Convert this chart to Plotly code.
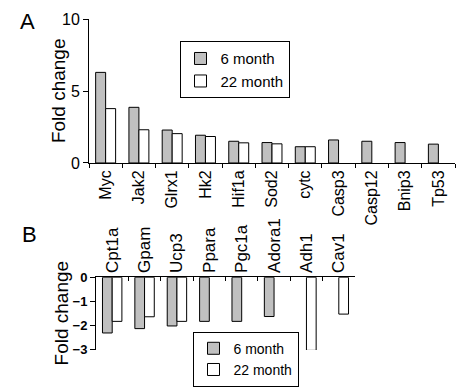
import plotly.graph_objects as go

# Panel A data
genes_a = ["Myc", "Jak2", "Glrx1", "Hk2", "Hif1a", "Sod2", "cytc", "Casp3", "Casp12", "Bnip3", "Tp53"]
a_6m = [6.3, 3.87, 2.29, 1.93, 1.51, 1.42, 1.13, 1.6, 1.51, 1.42, 1.31]
a_22m = [3.78, 2.31, 2.04, 1.84, 1.4, 1.33, 1.13, None, None, None, None]

# Panel B data
genes_b = ["Cpt1a", "Gpam", "Ucp3", "Ppara", "Pgc1a", "Adora1", "Adh1", "Cav1"]
b_6m = [-2.3, -2.12, -2.01, -1.82, -1.82, -1.62, None, None]
b_22m = [-1.82, -1.63, -1.82, None, None, None, -3.02, -1.52]

series_names = ["6 month", "22 month"]
y_title = "Fold change"
GRAY = "#c0c0c0"
WHITE = "#ffffff"
FONT = "Arial, Liberation Sans, sans-serif"
W, H = 461, 387

fig = go.Figure()

fig.add_trace(go.Bar(x=genes_a, y=a_6m, name=series_names[0], marker=dict(color=GRAY, line=dict(color="black", width=1)),
                     xaxis="x", yaxis="y", legend="legend"))
fig.add_trace(go.Bar(x=genes_a, y=a_22m, name=series_names[1], marker=dict(color=WHITE, line=dict(color="black", width=1)),
                     xaxis="x", yaxis="y", legend="legend"))
fig.add_trace(go.Bar(x=genes_b, y=b_6m, name=series_names[0], marker=dict(color=GRAY, line=dict(color="black", width=1)),
                     xaxis="x2", yaxis="y2", legend="legend2"))
fig.add_trace(go.Bar(x=genes_b, y=b_22m, name=series_names[1], marker=dict(color=WHITE, line=dict(color="black", width=1)),
                     xaxis="x2", yaxis="y2", legend="legend2"))

def px_x(p):
    return p / W

def px_y(p):
    return 1 - p / H

fig.update_layout(
    width=W, height=H,
    margin=dict(l=0, r=0, t=0, b=0),
    paper_bgcolor="white", plot_bgcolor="white",
    font=dict(family=FONT, color="black"),
    barmode="group",
    bargap=0.4,
    bargroupgap=0,
    xaxis=dict(domain=[px_x(89), px_x(455)], anchor="y", type="category", automargin=False,
               range=[-0.5, len(genes_a) - 0.5],
               showline=True, linecolor="black", linewidth=1,
               ticks="outside", tickson="boundaries", ticklen=4, tickcolor="black",
               tickangle=-90, tickfont=dict(size=16), showgrid=False),
    yaxis=dict(domain=[px_y(170), px_y(20)], anchor="x", range=[0, 10], automargin=False,
               tickvals=[0, 5, 10], showline=True, linecolor="black", linewidth=1,
               ticks="outside", ticklen=5, tickcolor="black", tickfont=dict(size=16),
               showgrid=False, zeroline=False),
    xaxis2=dict(domain=[px_x(96), px_x(355)], anchor="y2", type="category", side="top", automargin=False,
                range=[-0.5, len(genes_b) - 0.5],
                showline=True, linecolor="black", linewidth=1,
                ticks="inside", tickson="boundaries", ticklen=4, tickcolor="black",
                tickangle=-90, tickfont=dict(size=17), showgrid=False),
    yaxis2=dict(domain=[px_y(365), px_y(289.3)], anchor="x2", range=[-3, 0], automargin=False,
                tickvals=[0, -1, -2, -3], showline=True, linecolor="black", linewidth=1,
                ticks="outside", ticklen=5, tickcolor="black",
                tickfont=dict(size=13, weight="bold"),
                showgrid=False, zeroline=False),
    legend=dict(x=px_x(234.5), y=px_y(43), xanchor="center", yanchor="top",
                bordercolor="black", borderwidth=1, font=dict(size=15),
                itemwidth=30, tracegroupgap=0, bgcolor="white"),
    legend2=dict(x=px_x(245.5), y=px_y(346), xanchor="center", yanchor="top",
                 bordercolor="black", borderwidth=1, font=dict(size=14),
                 itemwidth=30, tracegroupgap=0, bgcolor="white"),
    annotations=[
        dict(text="A", x=px_x(27), y=px_y(22), xref="paper", yref="paper",
             showarrow=False, font=dict(size=22), xanchor="center", yanchor="middle"),
        dict(text="B", x=px_x(29), y=px_y(245), xref="paper", yref="paper",
             showarrow=False, font=dict(size=22), xanchor="center", yanchor="middle"),
        dict(text=y_title, x=px_x(58), y=px_y(95), xref="paper", yref="paper", textangle=-90,
             showarrow=False, font=dict(size=19), xanchor="center", yanchor="middle"),
        dict(text=y_title, x=px_x(61), y=px_y(327), xref="paper", yref="paper", textangle=-90,
             showarrow=False, font=dict(size=19), xanchor="center", yanchor="middle"),
    ],
)

fig.write_html("out.html", config={"displayModeBar": False},
               post_script="document.body.style.margin='0';document.body.style.overflow='hidden';")
